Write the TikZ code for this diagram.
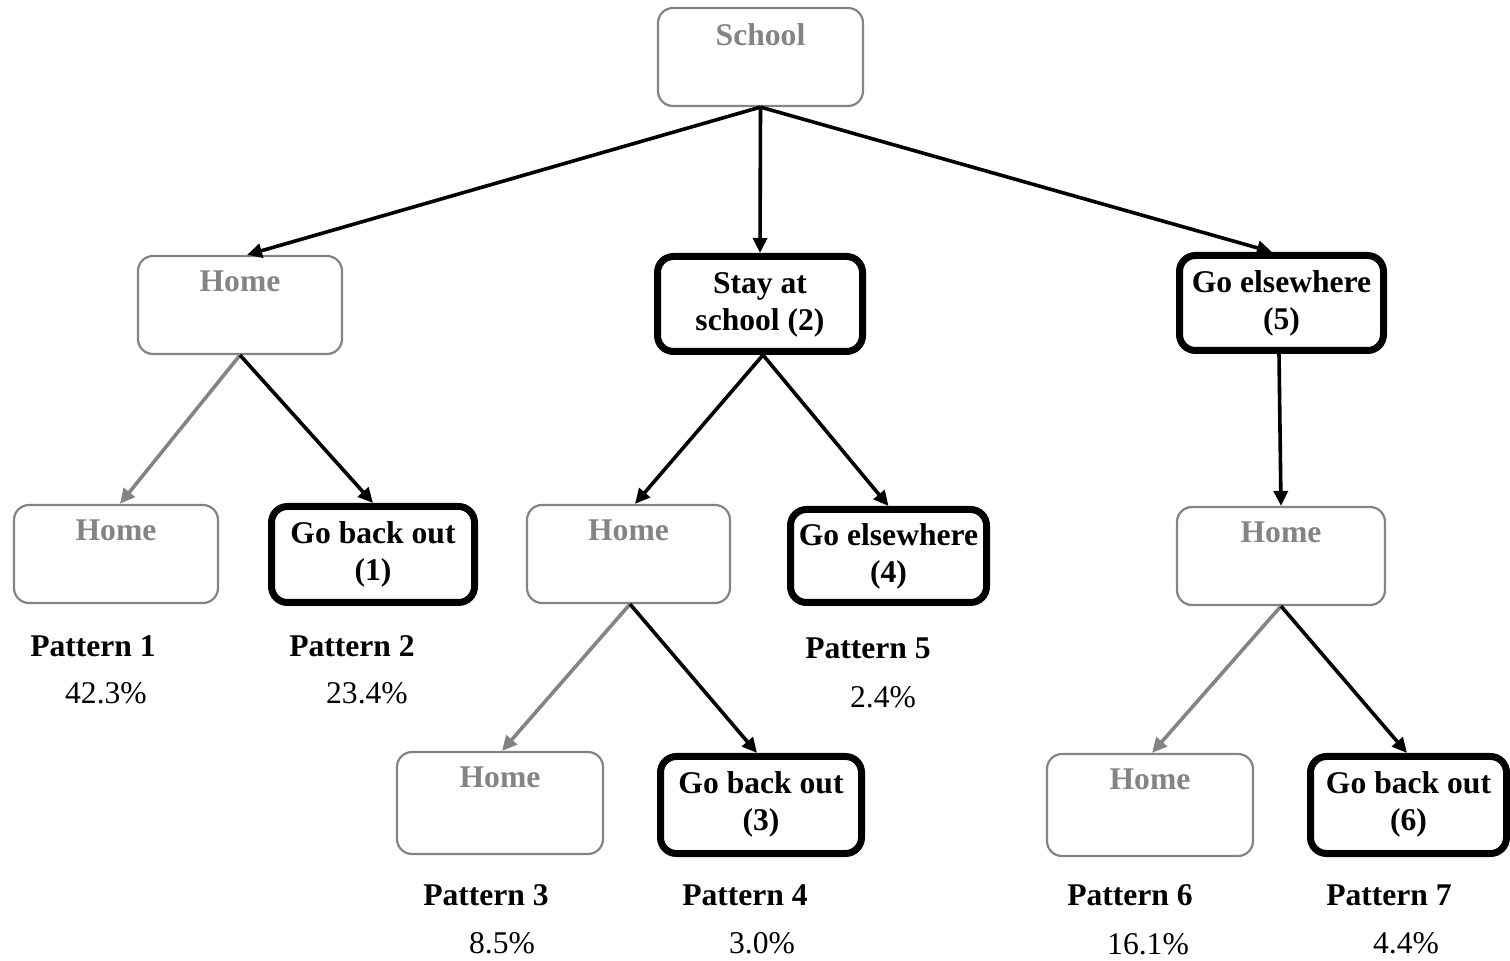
\documentclass[tikz,border=0pt]{standalone}
\usepackage{fontspec}
\setmainfont{Liberation Serif}
\usetikzlibrary{arrows.meta,calc}
\definecolor{boxgray}{RGB}{132,132,132}
\tikzset{
  graybox/.style={draw=boxgray, line width=1.1pt, rounded corners=7.5pt, fill=white, inner sep=0pt},
  blackbox/.style={draw=black, line width=3.5pt, rounded corners=8pt, fill=white, inner sep=0pt},
  gtxt/.style={text=boxgray, font=\fontsize{15.8}{18.5}\selectfont\bfseries, anchor=north, inner sep=0pt, align=center},
  btxt/.style={text=black, font=\fontsize{15.8}{18.5}\selectfont\bfseries, anchor=north, inner sep=0pt, align=center},
  pat/.style={font=\fontsize{15.8}{18.5}\selectfont\bfseries, inner sep=0pt},
  pct/.style={font=\fontsize{15.8}{18.5}\selectfont, inner sep=0pt},
  arr/.style={draw=black, line width=1.8pt, -{Triangle[length=7.5pt,width=7pt]}},
  garr/.style={draw=boxgray, line width=1.8pt, -{Triangle[length=7.5pt,width=7pt]}},
}
\begin{document}
\begin{tikzpicture}[x=0.5pt,y=-0.5pt]
\useasboundingbox (0,0) rectangle (1510,961);
% boxes
\node[graybox, minimum width=102.5pt, minimum height=49pt] (school) at (760.5,57) {};
\node[graybox, minimum width=102pt, minimum height=49pt] (home1) at (240,305) {};
\node[blackbox, minimum width=102.5pt, minimum height=47.5pt] (stay) at (760,304) {};
\node[blackbox, minimum width=102pt, minimum height=47.5pt] (goe5) at (1281.5,303) {};
\node[graybox, minimum width=102pt, minimum height=49pt] (homeA) at (116,554) {};
\node[blackbox, minimum width=101.5pt, minimum height=48pt] (gbo1) at (373,554.5) {};
\node[graybox, minimum width=101.5pt, minimum height=49pt] (homeB) at (628.5,554) {};
\node[blackbox, minimum width=98pt, minimum height=46.5pt] (goe4) at (888.5,556) {};
\node[graybox, minimum width=104pt, minimum height=49pt] (homeC) at (1281,556) {};
\node[graybox, minimum width=103pt, minimum height=51pt] (homeD) at (500,803) {};
\node[blackbox, minimum width=100.5pt, minimum height=48.5pt] (gbo3) at (761,805) {};
\node[graybox, minimum width=103pt, minimum height=51pt] (homeE) at (1150,805) {};
\node[blackbox, minimum width=98pt, minimum height=48.5pt] (gbo6) at (1408.5,805) {};
% box texts
\node[gtxt] (tschool) at ($(school.north)+(0,16)$) {School};
\node[gtxt] (thome1) at ($(home1.north)+(0,16)$) {Home};
\node[btxt] (tstay) at ($(stay.north)+(0,19)$) {Stay at\\school (2)};
\node[btxt] (tgoe5) at ($(goe5.north)+(0,18)$) {Go elsewhere\\(5)};
\node[gtxt] (thomeA) at ($(homeA.north)+(0,16)$) {Home};
\node[btxt] (tgbo1) at ($(gbo1.north)+(0,18)$) {Go back out\\(1)};
\node[gtxt] (thomeB) at ($(homeB.north)+(0,16)$) {Home};
\node[btxt] (tgoe4) at ($(goe4.north)+(0,17)$) {Go elsewhere\\(4)};
\node[gtxt] (thomeC) at ($(homeC.north)+(0,16)$) {Home};
\node[gtxt] (thomeD) at ($(homeD.north)+(0,16)$) {Home};
\node[btxt] (tgbo3) at ($(gbo3.north)+(0,18)$) {Go back out\\(3)};
\node[gtxt] (thomeE) at ($(homeE.north)+(0,16)$) {Home};
\node[btxt] (tgbo6) at ($(gbo6.north)+(0,18)$) {Go back out\\(6)};
% pattern labels
\node[pat] (p1) at (93,646) {Pattern 1};
\node[pct] (q1) at (106,693) {42.3\%};
\node[pat] (p2) at (352,646) {Pattern 2};
\node[pct] (q2) at (367,693) {23.4\%};
\node[pat] (p5) at (868,648) {Pattern 5};
\node[pct] (q5) at (883,697) {2.4\%};
\node[pat] (p3) at (486,895) {Pattern 3};
\node[pct] (q3) at (502,943) {8.5\%};
\node[pat] (p4) at (745,895) {Pattern 4};
\node[pct] (q4) at (762,943) {3.0\%};
\node[pat] (p6) at (1130,895) {Pattern 6};
\node[pct] (q6) at (1148,944) {16.1\%};
\node[pat] (p7) at (1389,895) {Pattern 7};
\node[pct] (q7) at (1406,943) {4.4\%};
% arrows
\draw[arr] (school.south) -- ($(home1.north)+(7,0)$);
\draw[arr] (school.south) -- (stay.north);
\draw[arr] (school.south) -- ($(goe5.north)+(-9.5,0)$);
\draw[garr] (home1.south) -- ($(homeA.north)+(4,0)$);
\draw[arr] (home1.south) -- (gbo1.north);
\draw[arr] ($(stay.south)+(3,0)$) -- ($(homeB.north)+(6.5,0)$);
\draw[arr] ($(stay.south)+(3,0)$) -- (goe4.north);
\draw[arr] ($(goe5.south)+(-2.5,0)$) -- (homeC.north);
\draw[garr] ($(homeB.south)+(1.5,0)$) -- ($(homeD.north)+(2,0)$);
\draw[arr] ($(homeB.south)+(1.5,0)$) -- ($(gbo3.north)+(-4,0)$);
\draw[garr] (homeC.south) -- ($(homeE.north)+(2,0)$);
\draw[arr] (homeC.south) -- ($(gbo6.north)+(-1.5,0)$);
\end{tikzpicture}
\end{document}
